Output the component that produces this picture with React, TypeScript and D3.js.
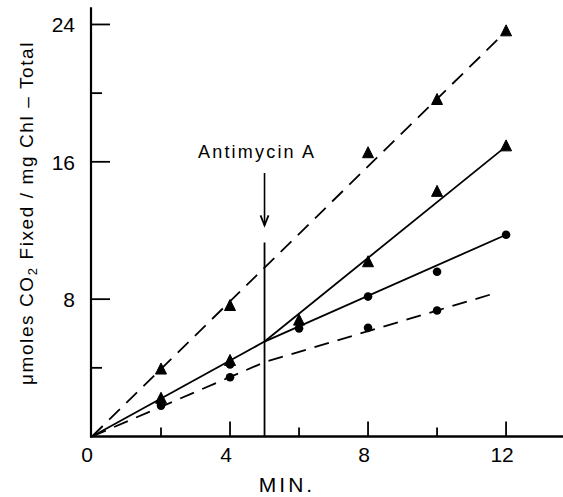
import React from "react";
import * as d3 from "d3";

const W = 563;
const H = 497;

// Data
const upperTriX = [2, 4, 8, 10, 12];
const upperTriY = [3.9, 7.6, 16.5, 19.6, 23.6];
const solidTriX = [2, 4, 6, 8, 10, 12];
const solidTriY = [2.2, 4.4, 6.75, 10.15, 14.25, 16.9];
const solidCircX = [2, 4, 6, 8, 10, 12];
const solidCircY = [1.95, 4.2, 6.3, 8.15, 9.6, 11.75];
const lowerCircX = [2, 4, 8, 10];
const lowerCircY = [1.8, 3.45, 6.33, 7.34];

// fitted lines (x, y)
const upperDashLine: [number, number][] = [[0, 0], [12, 23.6]];
const solidInitLine: [number, number][] = [[0, 0], [5, 5.53]];
const solidCircLine: [number, number][] = [[5, 5.53], [12, 11.75]];
const solidTriLine: [number, number][] = [[5, 5.53], [12, 16.9]];
const lowerDashLine: [number, number][] = [[0, 0], [5, 4.33], [11.6, 8.3]];

const xMajorTicks = [0, 4, 8, 12];
const xMinorTicks = [2, 6, 10];
const yMajorTicks = [8, 16, 24];
const yMinorTicks = [4, 20];

const antimycinTime = 5;
const antimycinLineTop = 11.3;
const arrowTop = 15.35;
const arrowTip = 12.3;

export default function App() {
  const x = d3.scaleLinear().domain([0, 13.65]).range([92, 563]);
  const y = d3.scaleLinear().domain([0, 25]).range([436.5, 7.3]);
  const line = d3
    .line<[number, number]>()
    .x((d) => x(d[0]))
    .y((d) => y(d[1]));

  const font = "'Liberation Sans', Arial, Helvetica, sans-serif";
  const tri = (cx: number, cy: number) => {
    const s = 5.5;
    return `M${cx},${cy - s - 1} L${cx + s},${cy + s - 1} L${cx - s},${cy + s - 1} Z`;
  };
  const lw = 1.8;
  const dash = "15 9";

  return (
    <svg
      width={W}
      height={H}
      style={{ position: "absolute", left: 0, top: 0, background: "#fff" }}
    >
      {/* axes */}
      <line x1={x(0) - 1} x2={x(0) - 1} y1={y(25)} y2={y(0) + 1} stroke="#000" strokeWidth={2.2} />
      <line x1={x(0) - 2} x2={W} y1={y(0)} y2={y(0)} stroke="#000" strokeWidth={2.6} />
      {xMajorTicks.filter((t) => t > 0).map((t) => (
        <line key={"xM" + t} x1={x(t)} x2={x(t)} y1={y(0)} y2={y(0) - 15} stroke="#000" strokeWidth={1.8} />
      ))}
      {xMinorTicks.map((t) => (
        <line key={"xm" + t} x1={x(t)} x2={x(t)} y1={y(0)} y2={y(0) - 9} stroke="#000" strokeWidth={1.8} />
      ))}
      {yMajorTicks.map((t) => (
        <line key={"yM" + t} x1={x(0) - 1} x2={x(0) + 18} y1={y(t)} y2={y(t)} stroke="#000" strokeWidth={1.8} />
      ))}
      {yMinorTicks.map((t) => (
        <line key={"ym" + t} x1={x(0) - 1} x2={x(0) + 10} y1={y(t)} y2={y(t)} stroke="#000" strokeWidth={1.8} />
      ))}
      {/* tick labels */}
      {xMajorTicks.map((t) => (
        <text key={"xl" + t} x={x(t) - (t === 0 ? 5 : 4)} y={462} textAnchor="middle" fontFamily={font} fontSize={21}>
          {t}
        </text>
      ))}
      {yMajorTicks.map((t) => (
        <text key={"yl" + t} x={75} y={y(t) + 8} textAnchor="end" fontFamily={font} fontSize={21}>
          {t}
        </text>
      ))}
      {/* axis titles */}
      <text x={287} y={492} textAnchor="middle" fontFamily={font} fontSize={21} letterSpacing={3}>
        MIN.
      </text>
      <text
        transform={`translate(33,213) rotate(-90)`}
        textAnchor="middle"
        fontFamily={font}
        fontSize={19}
        letterSpacing={1.6}
      >
        μmoles CO<tspan fontSize={13} dy={4}>2</tspan>
        <tspan dy={-4}> Fixed / mg Chl – Total</tspan>
      </text>
      {/* antimycin annotation */}
      <text x={198} y={158} fontFamily={font} fontSize={18} letterSpacing={2.2}>
        Antimycin A
      </text>
      <line x1={x(antimycinTime)} x2={x(antimycinTime)} y1={y(arrowTop)} y2={y(arrowTip)} stroke="#000" strokeWidth={1.6} />
      <path
        d={`M${x(antimycinTime) - 4},${y(arrowTip) - 10} L${x(antimycinTime)},${y(arrowTip)} L${x(antimycinTime) + 4},${y(arrowTip) - 10}`}
        fill="none"
        stroke="#000"
        strokeWidth={1.8}
      />
      <line x1={x(antimycinTime)} x2={x(antimycinTime)} y1={y(antimycinLineTop)} y2={y(0)} stroke="#000" strokeWidth={1.8} />
      {/* lines */}
      <path d={line(upperDashLine) || ""} fill="none" stroke="#000" strokeWidth={lw} strokeDasharray={dash} />
      <path d={line(lowerDashLine) || ""} fill="none" stroke="#000" strokeWidth={lw} strokeDasharray={dash} />
      <path d={line(solidInitLine) || ""} fill="none" stroke="#000" strokeWidth={lw} />
      <path d={line(solidCircLine) || ""} fill="none" stroke="#000" strokeWidth={lw} />
      <path d={line(solidTriLine) || ""} fill="none" stroke="#000" strokeWidth={lw} />
      {/* markers */}
      {upperTriX.map((t, i) => (
        <path key={"ut" + i} d={tri(x(t), y(upperTriY[i]))} fill="#000" stroke="#000" strokeWidth={1} strokeLinejoin="round" />
      ))}
      {solidTriX.map((t, i) => (
        <path key={"st" + i} d={tri(x(t), y(solidTriY[i]))} fill="#000" stroke="#000" strokeWidth={1} strokeLinejoin="round" />
      ))}
      {solidCircX.map((t, i) => (
        <circle key={"sc" + i} cx={x(t)} cy={y(solidCircY[i])} r={4.3} fill="#000" />
      ))}
      {lowerCircX.map((t, i) => (
        <circle key={"lc" + i} cx={x(t)} cy={y(lowerCircY[i])} r={4.3} fill="#000" />
      ))}
    </svg>
  );
}
